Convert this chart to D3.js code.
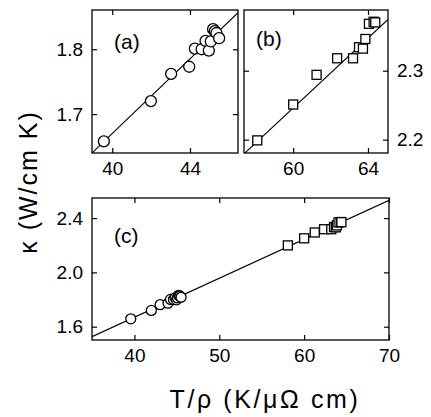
<!DOCTYPE html>
<html>
<head>
<meta charset="utf-8">
<script src="https://d3js.org/d3.v7.min.js"></script>
<style>
  body { margin: 0; background: #fff; }
  text { font-family: "Liberation Sans", Arial, Helvetica, sans-serif; fill: #000; }
</style>
</head>
<body>
<svg id="chart" width="431" height="417"></svg>
<script>
// kappa vs T/rho, circles = sample set (a), squares = sample set (b)
var circleX = [39.57, 41.99, 43.03, 43.96, 44.25, 44.60, 44.80, 44.97, 45.07, 45.19, 45.28, 45.36, 45.50];
var circleY = [1.658, 1.720, 1.762, 1.773, 1.801, 1.800, 1.813, 1.798, 1.812, 1.831, 1.828, 1.825, 1.817];
var squareX = [58.08, 60.00, 61.25, 62.35, 63.20, 63.52, 63.73, 63.86, 64.05, 64.30, 64.39];
var squareY = [2.199, 2.251, 2.294, 2.318, 2.318, 2.334, 2.332, 2.346, 2.368, 2.371, 2.370];
// linear fits [slope, intercept]
var fitA = [0.0288, 0.518];
var fitB = [0.0253, 0.728];
var fitC = [0.0287, 0.522];
// ticks
var ticksAX = [40, 44], ticksAY = [1.7, 1.8];
var ticksBX = [60, 64], ticksBY = [2.2, 2.3];
var ticksCX = [40, 50, 60, 70], ticksCY = [1.6, 2.0, 2.4];
var panelLabels = ["(a)", "(b)", "(c)"];
var xTitle = "T/\u03C1 (K/\u03BC\u03A9 cm)";
var yTitle = "\u03BA (W/cm K)";

var svg = d3.select("#chart");
var tick = 5;

function drawPanel(p) {
  var x = d3.scaleLinear().domain(p.xd).range([p.left, p.right]);
  var y = d3.scaleLinear().domain(p.yd).range([p.bottom, p.top]);
  var g = svg.append("g");

  g.append("clipPath").attr("id", "clip" + p.id)
    .append("rect")
    .attr("x", p.left).attr("y", p.top)
    .attr("width", p.right - p.left).attr("height", p.bottom - p.top);

  // axes, inward ticks on all sides
  var ax = function(axis, tx, ty, labels) {
    var a = g.append("g").attr("transform", "translate(" + tx + "," + ty + ")")
      .call(axis.tickSize(-tick).tickPadding(labels ? 9 : 0)
        .tickFormat(labels ? d3.format(p.fmt[labels]) : ""));
    a.select(".domain").remove();
    a.selectAll("line").attr("stroke", "#000").attr("stroke-width", 1.2);
    a.selectAll("text").style("font-size", "19px").attr("fill", "#000");
    return a;
  };
  ax(d3.axisBottom(x).tickValues(p.tx), 0, p.bottom, "x");
  ax(d3.axisTop(x).tickValues(p.tx), 0, p.top, null);
  ax(d3.axisLeft(y).tickValues(p.ty), p.left, 0, p.ySide == "left" ? "y" : null);
  ax(d3.axisRight(y).tickValues(p.ty), p.right, 0, p.ySide == "right" ? "y" : null);

  var cg = g.append("g").attr("clip-path", "url(#clip" + p.id + ")");

  // fit line
  cg.append("line")
    .attr("x1", x(p.xd[0])).attr("y1", y(p.fit[0] * p.xd[0] + p.fit[1]))
    .attr("x2", x(p.xd[1])).attr("y2", y(p.fit[0] * p.xd[1] + p.fit[1]))
    .attr("stroke", "#000").attr("stroke-width", 1.1);

  var sets = p.sets;
  sets.forEach(function(s) {
    var pts = d3.zip(s.xs, s.ys);
    if (s.shape == "circle") {
      cg.selectAll(null).data(pts).enter().append("circle")
        .attr("cx", function(d) { return x(d[0]); })
        .attr("cy", function(d) { return y(d[1]); })
        .attr("r", s.size)
        .attr("fill", "#fff").attr("stroke", "#000").attr("stroke-width", 1.3);
    } else {
      cg.selectAll(null).data(pts).enter().append("rect")
        .attr("x", function(d) { return x(d[0]) - s.size; })
        .attr("y", function(d) { return y(d[1]) - s.size; })
        .attr("width", s.size * 2).attr("height", s.size * 2)
        .attr("fill", "#fff").attr("stroke", "#000").attr("stroke-width", 1.3);
    }
  });

  g.append("rect")
    .attr("x", p.left).attr("y", p.top)
    .attr("width", p.right - p.left).attr("height", p.bottom - p.top)
    .attr("fill", "none").attr("stroke", "#000").attr("stroke-width", 1.3);

  g.append("text")
    .attr("x", p.left + p.lab[0]).attr("y", p.top + p.lab[1])
    .style("font-size", "21px")
    .text(p.label);
}

drawPanel({
  id: "a", left: 92, right: 238, top: 10, bottom: 153,
  xd: [38.96, 46.47], yd: [1.640, 1.8605],
  tx: ticksAX, ty: ticksAY, fmt: {x: "d", y: ".1f"}, ySide: "left",
  fit: fitA, label: panelLabels[0], lab: [22, 39],
  sets: [{shape: "circle", xs: circleX, ys: circleY, size: 5.5}]
});
drawPanel({
  id: "b", left: 244, right: 388, top: 10, bottom: 153,
  xd: [57.37, 65.07], yd: [2.1807, 2.388],
  tx: ticksBX, ty: ticksBY, fmt: {x: "d", y: ".1f"}, ySide: "right",
  fit: fitB, label: panelLabels[1], lab: [12, 36],
  sets: [{shape: "rect", xs: squareX, ys: squareY, size: 4.5}]
});
drawPanel({
  id: "c", left: 92, right: 389, top: 198, bottom: 340,
  xd: [35, 70], yd: [1.502, 2.548],
  tx: ticksCX, ty: ticksCY, fmt: {x: "d", y: ".1f"}, ySide: "left",
  fit: fitC, label: panelLabels[2], lab: [22, 45],
  sets: [
    {shape: "circle", xs: circleX, ys: circleY, size: 5},
    {shape: "rect", xs: squareX, ys: squareY, size: 4.5}
  ]
});

svg.append("text")
  .attr("x", 265).attr("y", 408)
  .attr("text-anchor", "middle")
  .style("font-size", "25px").style("letter-spacing", "2.6px")
  .text(xTitle);

svg.append("text")
  .attr("transform", "translate(37,182) rotate(-90)")
  .attr("text-anchor", "middle")
  .style("font-size", "25px").style("letter-spacing", "2px")
  .text(yTitle);
</script>
</body>
</html>
